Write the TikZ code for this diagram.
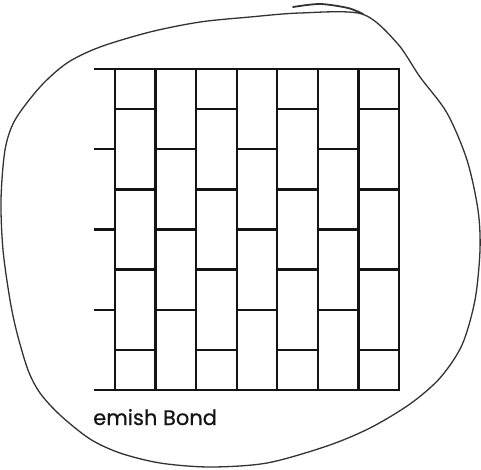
\documentclass[tikz,border=0pt]{standalone}
\usepackage{fontspec}
\setmainfont{Poppins}
\newfontfamily\capfont{Poppins}[FakeBold=0.5]
\usepackage{tikz}
\usetikzlibrary{calc}
\definecolor{mInk}{RGB}{20,20,20}
\definecolor{mPencil}{RGB}{50,50,50}
\tikzset{
  brickln/.style={line width=2.3pt, mInk},
  blobln/.style={line width=1.3pt, mPencil, line cap=round, line join=round},
  captxt/.style={font=\capfont\fontsize{21}{24}\selectfont, mInk, inner sep=0pt},
}
\newcommand{\colw}{40.57}
\newcommand{\rowh}{40.125}

\begin{document}
\begin{tikzpicture}[x=1pt,y=-1pt]
    \useasboundingbox (0,0) rectangle (481,469);
    % hand-drawn outline
    \draw[blobln] plot[smooth cycle, tension=0.5] coordinates {
      (300,13) (362,14) (397,43) (420,77) (447,113) (467,160)
      (478,210) (480,250) (475,300) (462,345) (440,378) (410,404)
      (370,428) (327,446) (267,463) (210,467) (160,463) (120,453)
      (90,439) (60,415) (40,393) (28,370) (17,333) (10,300) (3,250)
      (1,200) (5,150) (15,120) (40,87) (67,63) (100,47) (150,32)
      (200,22) (250,17)};
    \draw[blobln, line width=1.8pt] plot[smooth] coordinates {(293,7) (320,4) (348,8) (363,14)};
    % top and bottom edges
    \draw[brickln] (94,69) -- (400,69);
    \draw[brickln] (94,390) -- (400,390);
    % vertical joints
    \foreach \i in {0,...,7}
      \draw[brickln] (115+\i*\colw,69) -- (115+\i*\colw,390);
    % half bricks left of the first column
    \foreach \j in {2,4,6}
      \draw[brickln] (94,69+\j*\rowh) -- (115,69+\j*\rowh);
    % bed joints, staggered column by column
    \foreach \i in {0,2,4,6}
      \foreach \j in {1,3,5,7}
        \draw[brickln] (115+\i*\colw,69+\j*\rowh) -- (115+\i*\colw+\colw,69+\j*\rowh);
    \foreach \i in {1,3,5}
      \foreach \j in {2,4,6}
        \draw[brickln] (115+\i*\colw,69+\j*\rowh) -- (115+\i*\colw+\colw,69+\j*\rowh);
    % caption
    \node[captxt, anchor=base west] (cap) at (93,425) {emish Bond};
  \end{tikzpicture}
\end{document}
